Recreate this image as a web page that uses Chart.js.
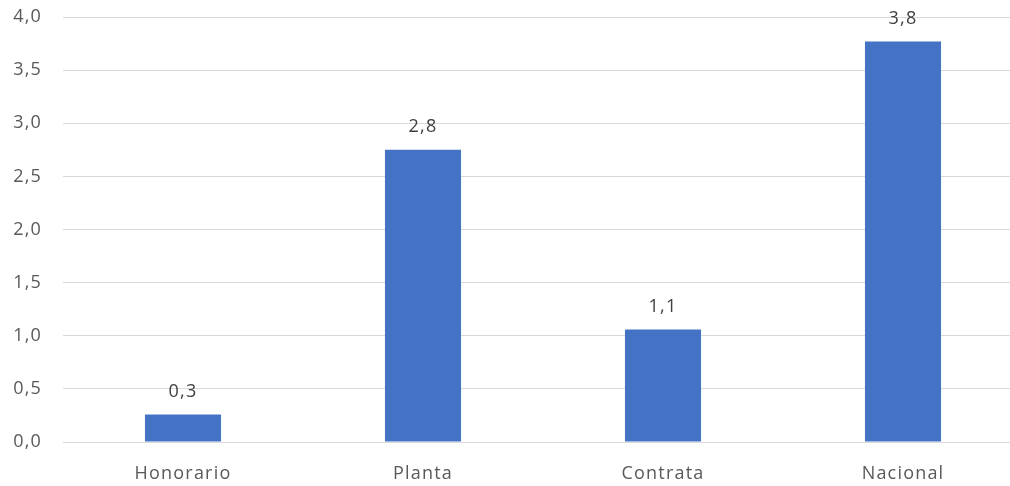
<!DOCTYPE html>
<html>
<head>
<meta charset="utf-8">
<script src="https://cdn.jsdelivr.net/npm/chart.js@4/dist/chart.umd.min.js"></script>
<style>
  html, body { margin: 0; padding: 0; background: #fff; overflow: hidden; }
  #wrap { position: relative; width: 1023px; height: 486px; }
</style>
</head>
<body>
<div id="wrap"><canvas id="chart"></canvas></div>
<script>
// Categories and values
const categories = ['Honorario', 'Planta', 'Contrata', 'Nacional'];
const values = [0.26, 2.75, 1.06, 3.77];
const yTicks = [0, 0.5, 1, 1.5, 2, 2.5, 3, 3.5, 4];

const fmt = v => v.toFixed(1).replace('.', ',');
const FONT = "'Open Sans', 'Noto Sans', sans-serif";
const SPACING = '1.2px';

// Slightly looser letter spacing for all chart text
const textSpacing = {
  id: 'textSpacing',
  beforeDraw(chart) { chart.ctx.letterSpacing = SPACING; }
};

// Value labels above each bar
const valueLabels = {
  id: 'valueLabels',
  afterDatasetsDraw(chart) {
    const ctx = chart.ctx;
    const meta = chart.getDatasetMeta(0);
    ctx.save();
    ctx.letterSpacing = SPACING;
    ctx.font = '18px ' + FONT;
    ctx.fillStyle = '#404040';
    ctx.textAlign = 'center';
    ctx.textBaseline = 'middle';
    meta.data.forEach((bar, i) => {
      ctx.fillText(fmt(values[i]), bar.x, bar.y - 23);
    });
    ctx.restore();
  }
};

new Chart(document.getElementById('chart'), {
  type: 'bar',
  data: {
    labels: categories,
    datasets: [{
      data: values,
      backgroundColor: '#4472C4',
      borderWidth: 0,
      categoryPercentage: 1,
      barPercentage: 0.317
    }]
  },
  options: {
    responsive: true,
    maintainAspectRatio: false,
    animation: false,
    layout: { padding: { top: 17, right: 0, left: 0, bottom: 0 } },
    plugins: { legend: { display: false }, tooltip: { enabled: false } },
    scales: {
      x: {
        grid: { display: false, drawTicks: false },
        border: { display: false },
        ticks: { color: '#595959', font: { family: FONT, size: 18 }, padding: 21 },
        afterFit(scale) { scale.height = 44; }
      },
      y: {
        min: 0,
        max: 4,
        afterBuildTicks(scale) { scale.ticks = yTicks.map(v => ({ value: v })); },
        grid: { color: '#d9d9d9', lineWidth: 1, drawTicks: false },
        border: { display: false },
        ticks: {
          color: '#595959',
          font: { family: FONT, size: 18 },
          padding: 21,
          callback: v => fmt(v)
        },
        afterFit(scale) {
          scale.width = 63;
          scale.paddingTop = 0;
          scale.paddingBottom = 0;
        }
      }
    }
  },
  plugins: [textSpacing, valueLabels]
});
</script>
</body>
</html>
